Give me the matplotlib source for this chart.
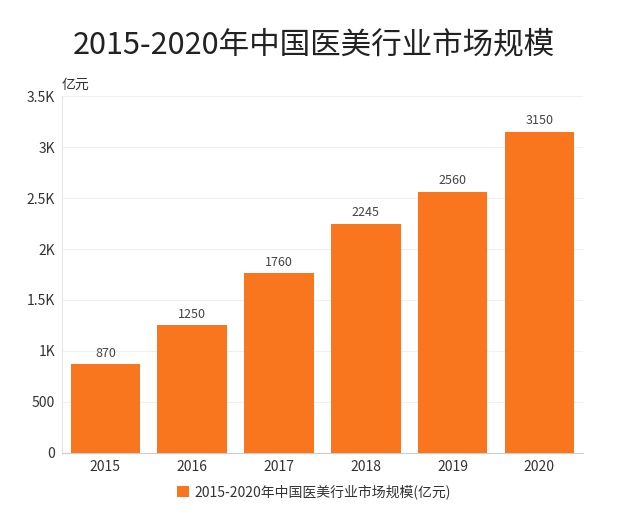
import matplotlib.pyplot as plt
from matplotlib.ticker import FuncFormatter
from matplotlib.patches import FancyBboxPatch
from matplotlib.legend_handler import HandlerPatch

plt.rcParams['font.family'] = ['Noto Sans CJK SC', 'DejaVu Sans']

years = ['2015', '2016', '2017', '2018', '2019', '2020']
market_size = [870, 1250, 1760, 2245, 2560, 3150]
series_name = '2015-2020年中国医美行业市场规模(亿元)'
bar_color = '#FA761E'


def fmt_k(v, _):
    if v == 0:
        return '0'
    if v < 1000:
        return f'{int(v)}'
    k = v / 1000
    return f'{k:g}K'


class RoundBoxHandler(HandlerPatch):
    def create_artists(self, legend, orig_handle, xdescent, ydescent,
                       width, height, fontsize, trans):
        s = min(width, height) * 1.05
        x0 = (width - s) / 2 - xdescent
        y0 = (height - s) / 2 - ydescent
        p = FancyBboxPatch((x0, y0), s, s, boxstyle='round,pad=0,rounding_size=2',
                           facecolor=bar_color, edgecolor='none', transform=trans)
        return [p]


fig = plt.figure(figsize=(6.28, 5.14), dpi=100)
ax = fig.add_axes([0.0987, 0.1187, 0.8293, 0.6945])

x = range(len(years))
bars = ax.bar(x, market_size, width=0.8, color=bar_color, label=series_name, zorder=3)

for xi, v in zip(x, market_size):
    ax.text(xi, v + 45, str(v), ha='center', va='bottom', fontsize=9, color='#444444')

ax.set_xlim(-0.5, len(years) - 0.5)
ax.set_ylim(0, 3500)
ax.set_yticks(range(0, 3501, 500))
ax.yaxis.set_major_formatter(FuncFormatter(fmt_k))
ax.set_xticks(list(x))
ax.set_xticklabels(years)
ax.tick_params(axis='both', length=0, labelsize=10, colors='#333333')
ax.tick_params(axis='y', pad=5)
ax.tick_params(axis='x', pad=5)

ax.grid(axis='y', color='#F0F0F0', linewidth=0.8, zorder=0)
for side in ['top', 'right']:
    ax.spines[side].set_visible(False)
ax.spines['left'].set_color('#E6E6E6')
ax.spines['bottom'].set_color('#CCCCCC')

ax.text(0.0, 1.012, '亿元', transform=ax.transAxes, ha='left', va='bottom',
        fontsize=10, color='#333333')

fig.text(0.5, 0.912, '2015-2020年中国医美行业市场规模', ha='center', va='center',
         fontsize=22, color='#222222')

fig.legend(handles=[bars], labels=[series_name], loc='center',
           bbox_to_anchor=(0.5, 0.043), frameon=False, fontsize=10,
           handlelength=0.9, handleheight=0.9, handletextpad=0.4,
           handler_map={type(bars.patches[0]): RoundBoxHandler()},
           labelcolor='#333333')

fig.savefig('out.png', dpi=100)
